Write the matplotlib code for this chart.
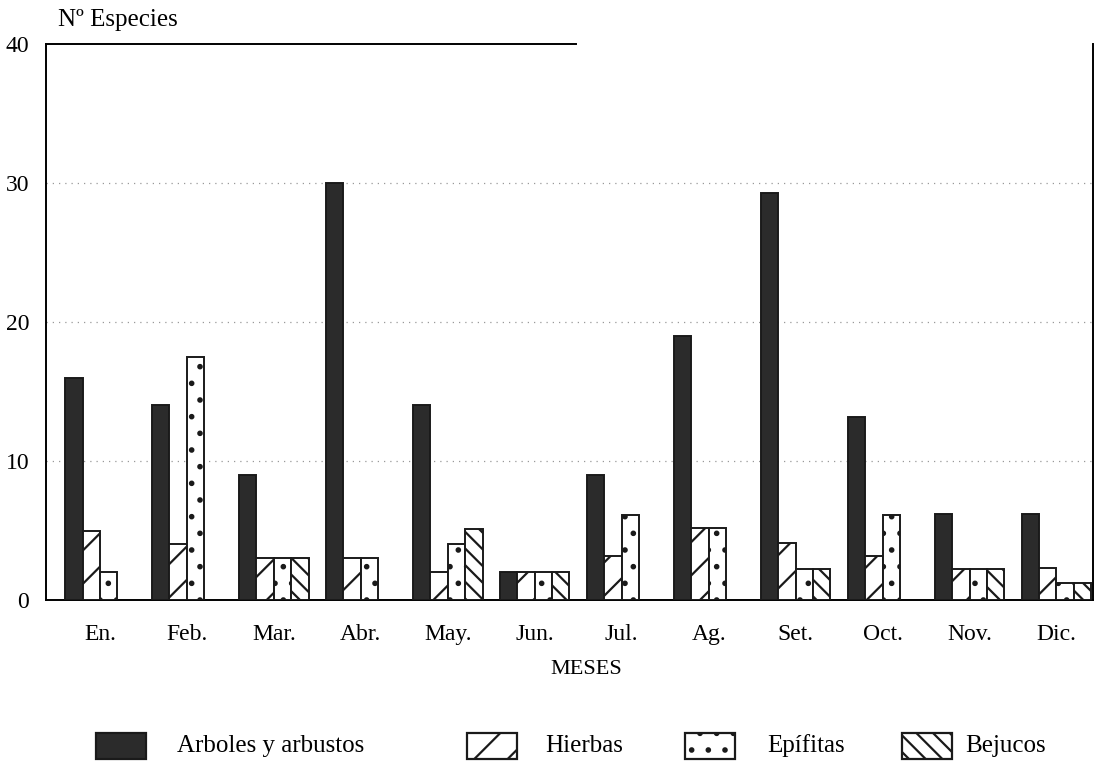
import numpy as np
import matplotlib.pyplot as plt
from matplotlib.patches import Rectangle

plt.rcParams['font.family'] = ['Liberation Serif', 'DejaVu Serif']
plt.rcParams['hatch.linewidth'] = 1.6

# data (number of species flowering per month)
meses = ['En.', 'Feb.', 'Mar.', 'Abr.', 'May.', 'Jun.',
         'Jul.', 'Ag.', 'Set.', 'Oct.', 'Nov.', 'Dic.']
arboles = [16, 14, 9, 30, 14, 2, 9, 19, 29.3, 13.2, 6.2, 6.2]
hierbas = [5, 4, 3, 3, 2, 2, 3.2, 5.2, 4.1, 3.2, 2.2, 2.3]
epifitas = [2, 17.5, 3, 3, 4, 2, 6.1, 5.2, 2.2, 6.1, 2.2, 1.2]
bejucos = [0, 0, 3, 0, 5.1, 2, 0, 0, 2.2, 0, 2.2, 1.2]

series = [
    ('Arboles y arbustos', arboles, '#2b2b2b', ''),
    ('Hierbas', hierbas, 'white', '/'),
    ('Epífitas', epifitas, 'white', '.'),
    ('Bejucos', bejucos, 'white', '\\\\'),
]

W, H = 1114, 768
fig = plt.figure(figsize=(W / 100, H / 100), dpi=100)
ax = fig.add_axes([46 / W, 1 - 600 / H, (1093 - 46) / W, (600 - 44) / H])

x = np.arange(len(meses)) * 5
for k, (name, vals, fc, hatch) in enumerate(series):
    vals = np.array(vals, dtype=float)
    keep = vals > 0
    ax.bar(x[keep] + k, vals[keep], width=1.0, align='edge',
           color=fc, edgecolor='#1a1a1a', linewidth=1.4, hatch=hatch, zorder=3)

ax.set_xlim(-1.1, 59.1)
ax.set_ylim(0, 40)
ax.set_yticks([0, 10, 20, 30, 40])
ax.set_yticklabels(['0', '10', '20', '30', '40'], fontsize=17)
ax.set_xticks(x + 2)
ax.set_xticklabels(meses, fontsize=17)
ax.tick_params(axis='x', length=0, pad=17)
ax.tick_params(axis='y', length=0, pad=12)

for yv in [10, 20, 30]:
    ax.axhline(yv, color='#999999', linestyle=(0, (1, 4)), linewidth=0.9, zorder=1)

ax.spines['top'].set_visible(False)
for s in ['left', 'right', 'bottom']:
    ax.spines[s].set_linewidth(1.4)
# partial top border as in the original
ax.plot([0, (576 - 46) / (1093 - 46)], [1, 1], color='black', linewidth=1.4,
        transform=ax.transAxes, clip_on=False)

fig.text(58 / W, 1 - 20 / H, 'Nº Especies', fontsize=18, ha='left', va='center')
fig.text(586 / W, 1 - 670 / H, 'MESES', fontsize=16, ha='center', va='center')

# legend drawn by hand to match the spacing of the original
legend_x = [(96, 177), (467, 545), (685, 767), (902, 965)]
for (bx, tx), (name, _, fc, hatch) in zip(legend_x, series):
    fig.add_artist(Rectangle((bx / W, 1 - 759 / H), 50 / W, 26 / H,
                             facecolor=fc, edgecolor='#1a1a1a', hatch=hatch,
                             linewidth=1.6, transform=fig.transFigure))
    fig.text(tx / W, 1 - 746 / H, name, fontsize=18, ha='left', va='center')

fig.savefig('out.png', dpi=100)
